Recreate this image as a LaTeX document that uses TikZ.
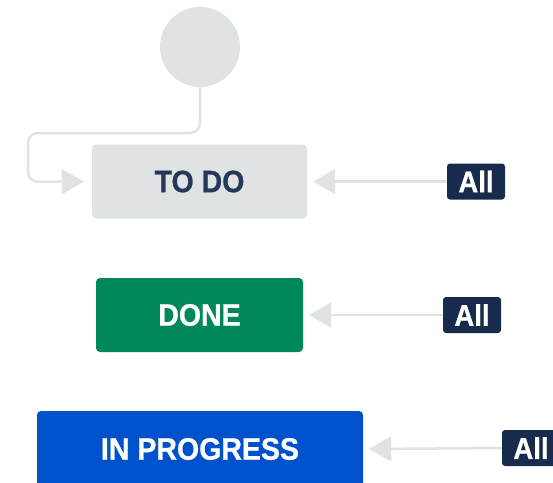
\documentclass[tikz,border=0pt]{standalone}
\usepackage{fontspec}
\setmainfont{Liberation Sans}[FakeStretch=0.92, BoldFeatures={FakeBold=0.8}]
\usetikzlibrary{arrows.meta}
\definecolor{lgray}{HTML}{DFE3E4}
\definecolor{navy}{HTML}{172B4D}
\definecolor{todotext}{HTML}{253858}
\definecolor{dgreen}{HTML}{00875A}
\definecolor{jblue}{HTML}{0052CC}
\tikzset{
  x=1pt,y=1pt,
  statusbox/.style={rectangle, rounded corners=4pt, inner sep=0pt, font=\fontsize{31}{33}\selectfont\bfseries},
  allbadge/.style={rectangle, rounded corners=3pt, fill=navy, text=white, minimum width=58pt, minimum height=36pt, inner sep=0pt, font=\fontsize{30}{32}\selectfont\bfseries},
  conn/.style={draw=lgray, line width=2.5pt, -{Triangle[length=22pt,width=25pt,fill=lgray]}},
}
\begin{document}
\begin{tikzpicture}
\useasboundingbox (0,0) rectangle (553,-482);
\begin{scope}
\clip (0,0) rectangle (553,-482);
\node[circle, fill=lgray, minimum size=80pt, inner sep=0pt] (start) at (200,-47) {};
\node[statusbox, fill=lgray, text=todotext, minimum width=215pt, minimum height=74pt] (todo) at (199.5,-181.5) {TO DO};
\node[statusbox, fill=dgreen, text=white, minimum width=207pt, minimum height=74pt] (done) at (199.5,-315) {DONE};
\node[statusbox, fill=jblue, text=white, minimum width=326pt, minimum height=76pt] (prog) at (200,-449) {IN PROGRESS};
\node[allbadge] (a1) at (476,-181.5) {All};
\node[allbadge] (a2) at (472,-315) {All};
\node[allbadge] (a3) at (531,-448) {All};
\coordinate (c1) at (200,-133);
\coordinate (c2) at (28,-133);
\coordinate (c3) at (28,-182);
\draw[conn, rounded corners=10pt] (start.south) -- (c1) -- (c2) -- (c3) -- ([xshift=-8pt]todo.west);
\draw[conn] (a1.west) -- ([xshift=6pt]todo.east);
\draw[conn] (a2.west) -- ([xshift=6pt]done.east);
\draw[conn] (a3.west) -- ([xshift=6pt]prog.east);
\end{scope}
\end{tikzpicture}
\end{document}
